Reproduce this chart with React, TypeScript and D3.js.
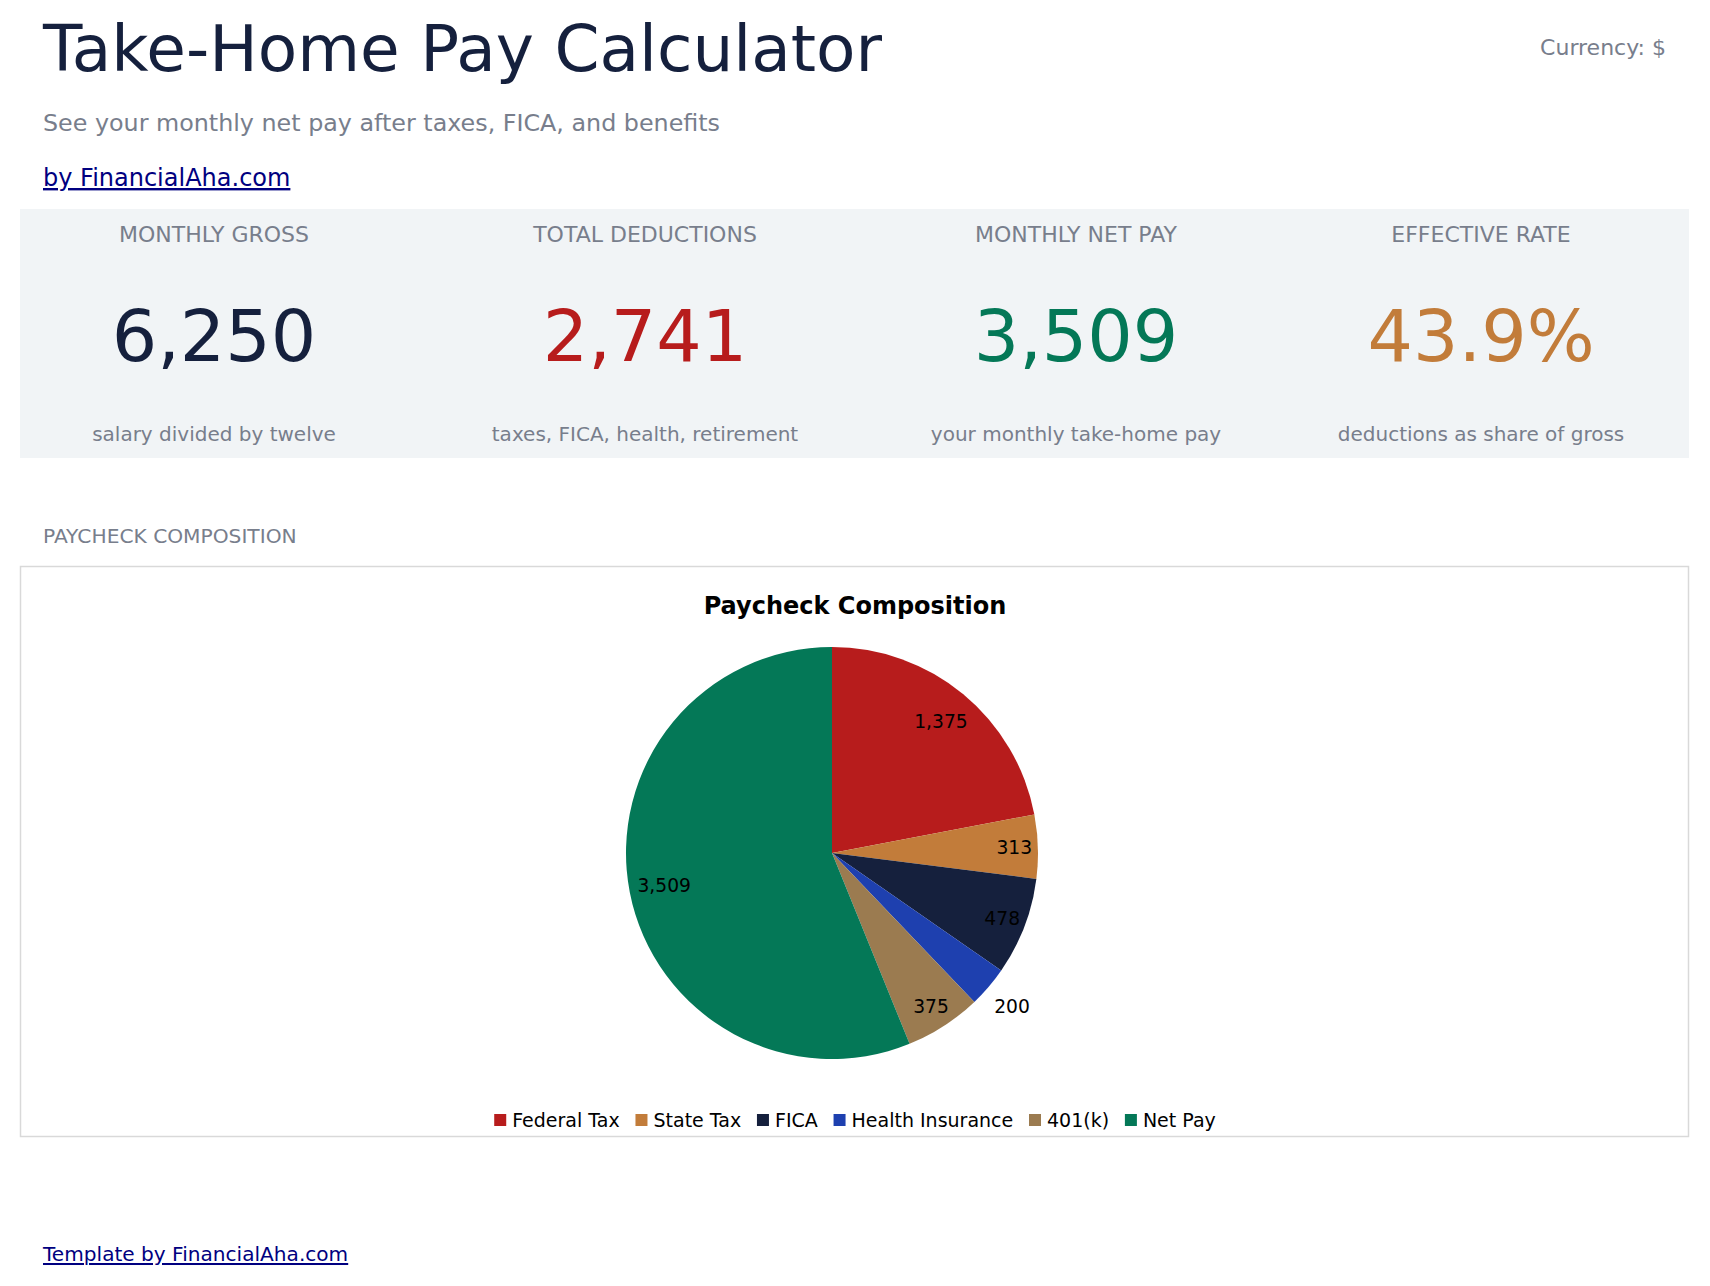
import React from 'react';
import * as d3 from 'd3';

// slices, in drawing order (clockwise from 12 o'clock)
const categories = ['Federal Tax', 'State Tax', 'FICA', 'Health Insurance', '401(k)', 'Net Pay'];
const amounts = [1375, 313, 478, 200, 375, 3509];
const sliceColors = ['#b71c1c', '#c27c3a', '#15203d', '#1e40af', '#9b7b50', '#047857'];

// KPI strip
const kpiLabels = ['MONTHLY GROSS', 'TOTAL DEDUCTIONS', 'MONTHLY NET PAY', 'EFFECTIVE RATE'];
const kpiValues = ['6,250', '2,741', '3,509', '43.9%'];
const kpiNotes = [
  'salary divided by twelve',
  'taxes, FICA, health, retirement',
  'your monthly take-home pay',
  'deductions as share of gross',
];
const kpiColors = ['#15203d', '#b71c1c', '#047857', '#c27c3a'];

const W = 1710;
const H = 1286;
const FONT = '"DejaVu Sans", Verdana, sans-serif';
const GRAY = '#787e8c';
const LINK = '#000080';

const kpiCenters = [214, 645, 1076, 1481];

const pieCx = 832;
const pieCy = 853;
const radius = 206;

const legendFont = 19;
const legendSwatch = 12;
const legendGapSwatch = 6;
const legendGapItem = 15.8;

// rough DejaVu Sans width measurement via canvas
const measure = (txt: string, size: number) => {
  const c = document.createElement('canvas').getContext('2d');
  if (!c) return txt.length * size * 0.6;
  c.font = `${size}px "DejaVu Sans"`;
  return c.measureText(txt).width;
};

export default function App() {
  const total = d3.sum(amounts);
  const pie = d3
    .pie<number>()
    .sort(null)
    .value((d) => d);
  const arcs = pie(amounts);
  const arc = d3.arc<d3.PieArcDatum<number>>().innerRadius(0).outerRadius(radius);
  const labelArc = (f: number) =>
    d3.arc<d3.PieArcDatum<number>>().innerRadius(radius * f).outerRadius(radius * f);
  const fmt = d3.format(',');

  // legend layout, centred in the chart box
  const itemWidths = categories.map(
    (c) => legendSwatch + legendGapSwatch + measure(c, legendFont)
  );
  const legendTotal = d3.sum(itemWidths) + legendGapItem * (categories.length - 1);
  const legendX0 = 855 - legendTotal / 2;
  const legendOffsets = itemWidths.map(
    (_, i) => legendX0 + d3.sum(itemWidths.slice(0, i)) + legendGapItem * i
  );
  const legendY = 1120;

  return (
    <svg
      width={W}
      height={H}
      style={{ position: 'absolute', left: 0, top: 0, background: '#fff' }}
      fontFamily={FONT}
    >
      <text x={43} y={71} fontSize={64.5} fill="#15203d">
        Take-Home Pay Calculator
      </text>
      <text x={1666} y={55} fontSize={22} fill={GRAY} textAnchor="end">
        Currency: $
      </text>
      <text x={43} y={131} fontSize={23.8} fill={GRAY}>
        See your monthly net pay after taxes, FICA, and benefits
      </text>
      <text x={43} y={186} fontSize={24} fill={LINK} textDecoration="underline">
        by FinancialAha.com
      </text>

      <rect x={20} y={209} width={1669} height={249} fill="#f1f4f6" />
      {kpiLabels.map((lab, i) => (
        <g key={lab} transform={`translate(${kpiCenters[i]},0)`} textAnchor="middle">
          <text y={242} fontSize={22} fill={GRAY}>
            {lab}
          </text>
          <text y={361} fontSize={71.5} fill={kpiColors[i]}>
            {kpiValues[i]}
          </text>
          <text y={441} fontSize={20} fill={GRAY}>
            {kpiNotes[i]}
          </text>
        </g>
      ))}

      <text x={43} y={543} fontSize={20.2} fill={GRAY}>
        PAYCHECK COMPOSITION
      </text>
      <rect x={20.5} y={566.5} width={1668} height={570} fill="#fff" stroke="#d9d9d9" strokeWidth={1.5} />
      <text x={855} y={614} fontSize={24} fontWeight="bold" textAnchor="middle" fill="#000">
        Paycheck Composition
      </text>

      <g transform={`translate(${pieCx},${pieCy})`}>
        {arcs.map((a, i) => (
          <path key={categories[i]} d={arc(a) || ''} fill={sliceColors[i]} />
        ))}
        {arcs.map((a, i) => {
          const share = a.data / total;
          // small slices get their label outside, mid ones near the rim
          const f = share < 0.04 ? 1.15 : share < 0.1 ? 0.885 : 0.83;
          const [lx, ly] = labelArc(f).centroid(a);
          return (
            <text
              key={`l-${categories[i]}`}
              x={lx}
              y={ly}
              dy="0.35em"
              textAnchor="middle"
              fontSize={18.7}
              fill="#000"
            >
              {fmt(a.data)}
            </text>
          );
        })}
      </g>

      {categories.map((c, i) => (
        <g key={`lg-${c}`} transform={`translate(${legendOffsets[i]},${legendY})`}>
          <rect x={0} y={-legendSwatch / 2} width={legendSwatch} height={legendSwatch} fill={sliceColors[i]} />
          <text x={legendSwatch + legendGapSwatch} y={0} dy="0.35em" fontSize={legendFont} fill="#000">
            {c}
          </text>
        </g>
      ))}

      <text x={43} y={1261} fontSize={20.1} fill={LINK} textDecoration="underline">
        Template by FinancialAha.com
      </text>
    </svg>
  );
}
